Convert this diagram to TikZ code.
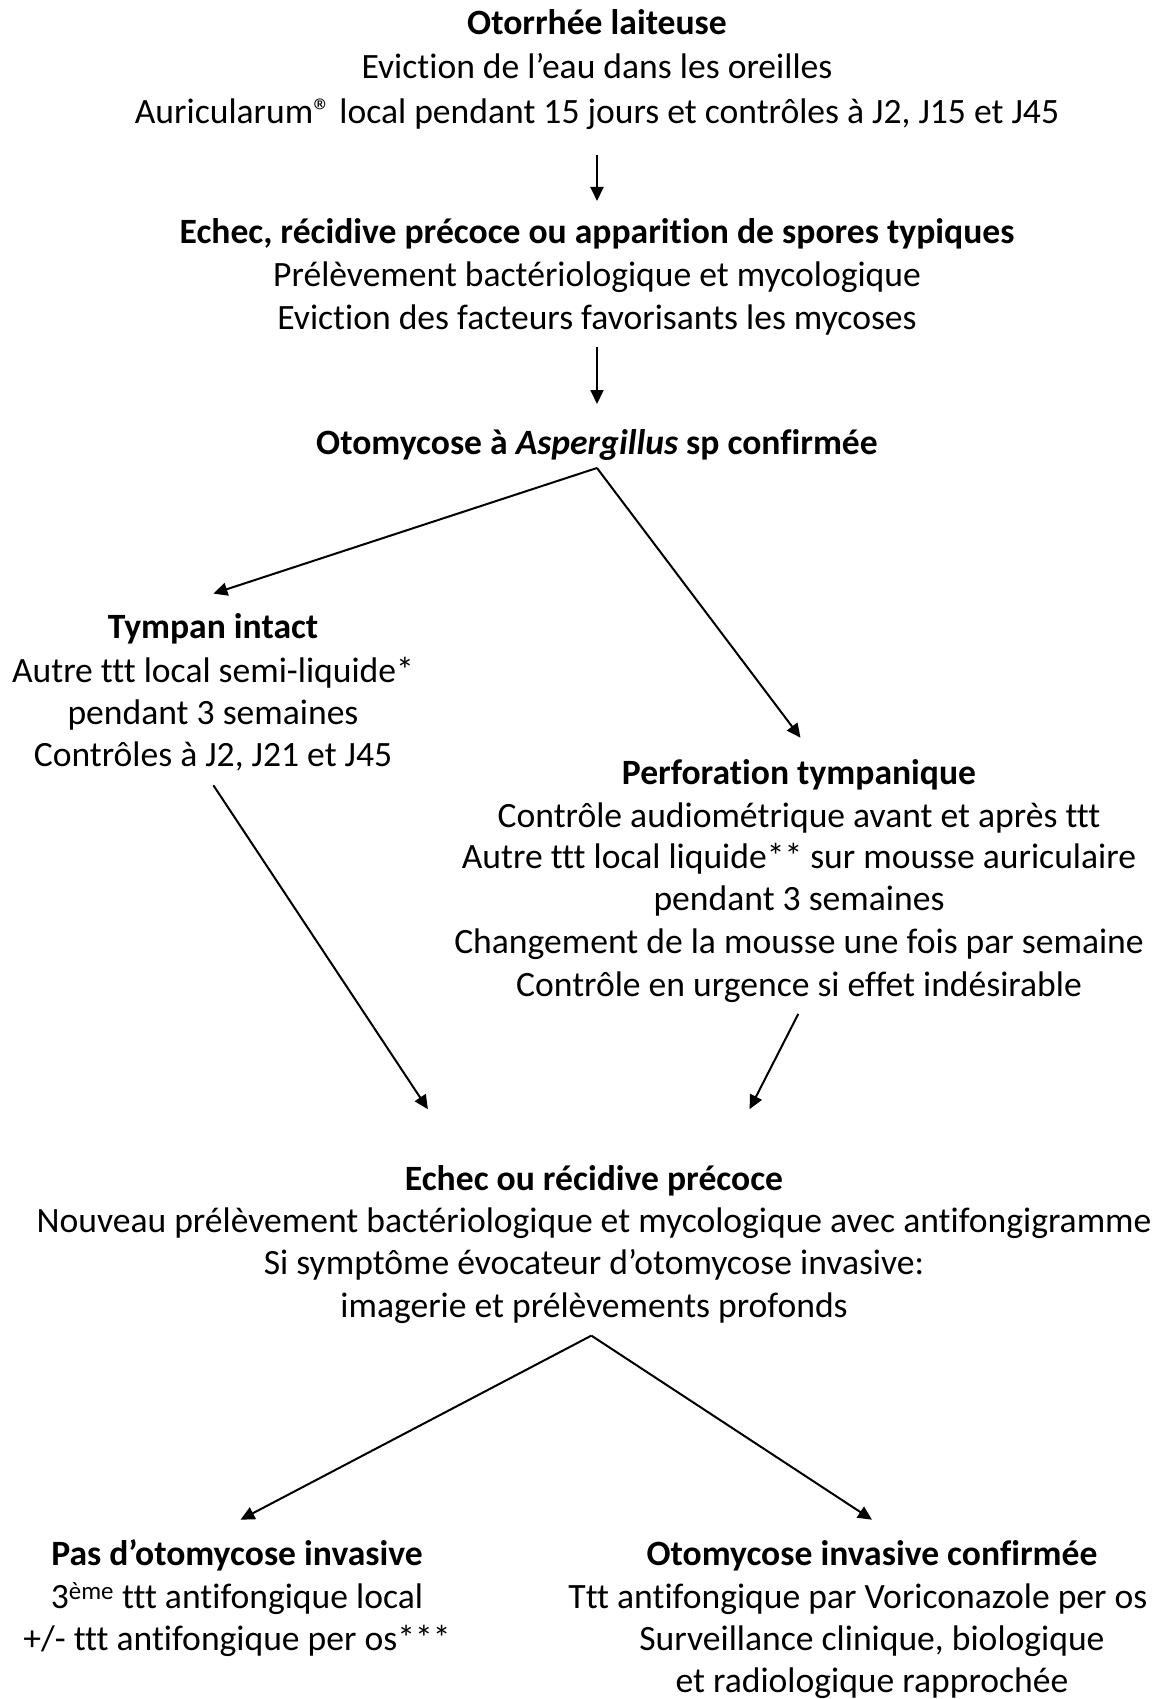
\documentclass[tikz,border=0pt]{standalone}
\usepackage{fontspec}
\setmainfont{Carlito}[Ligatures={NoCommon,NoRequired,NoContextual}]
\usetikzlibrary{arrows.meta}
\tikzset{
  txt/.style={anchor=base, inner sep=0pt, font=\fontsize{35.6}{42}\selectfont},
  hd/.style={txt, font=\fontsize{35.6}{42}\selectfont\bfseries},
  arr/.style={-{Triangle[length=14pt,width=13pt]}, line width=2pt, black}
}
\begin{document}
\begin{tikzpicture}[x=1pt,y=-1pt]
\useasboundingbox (0,0) rectangle (1172,1699);
\begin{scope}[yshift=-2pt]
% block 1
\node[hd]  (b1a) at (597,32.5) {Otorrhée laiteuse};
\node[txt] (b1b) at (597,76.9) {Eviction de l’eau dans les oreilles};
\node[txt] (b1c) at (597,121.3) {Auricularum® local pendant 15 jours et contrôles à J2, J15 et J45};
% block 2
\node[hd]  (b2a) at (597,241.6) {Echec, récidive précoce ou apparition de spores typiques};
\node[txt] (b2b) at (597,284.9) {Prélèvement bactériologique et mycologique};
\node[txt] (b2c) at (597,327.1) {Eviction des facteurs favorisants les mycoses};
% block 3
\node[hd]  (b3a) at (597,452.8) {Otomycose à \textit{Aspergillus} sp confirmée};
% block 4 left
\node[hd]  (b4a) at (213,636.9) {Tympan intact};
\node[txt] (b4b) at (213,680.2) {Autre ttt local semi-liquide*};
\node[txt] (b4c) at (213,722.5) {pendant 3 semaines};
\node[txt] (b4d) at (213,764.7) {Contrôles à J2, J21 et J45};
% block 5 right
\node[hd]  (b5a) at (799,782.1) {Perforation tympanique};
\node[txt] (b5b) at (799,825.4) {Contrôle audiométrique avant et après ttt};
\node[txt] (b5c) at (799,866.6) {Autre ttt local liquide** sur mousse auriculaire};
\node[txt] (b5d) at (799,908.8) {pendant 3 semaines};
\node[txt] (b5e) at (799,951.0) {Changement de la mousse une fois par semaine};
\node[txt] (b5f) at (799,994.4) {Contrôle en urgence si effet indésirable};
% block 6
\node[hd]  (b6a) at (594,1188.3) {Echec ou récidive précoce};
\node[txt] (b6b) at (594,1230.5) {Nouveau prélèvement bactériologique et mycologique avec antifongigramme};
\node[txt] (b6c) at (594,1272.8) {Si symptôme évocateur d’otomycose invasive:};
\node[txt] (b6d) at (594,1315.0) {imagerie et prélèvements profonds};
% block 7 left
\node[hd]  (b7a) at (237,1563.1) {Pas d’otomycose invasive};
\node[txt] (b7b) at (237,1606.4) {3\textsuperscript{ème} ttt antifongique local};
\node[txt] (b7c) at (237,1648.6) {+/- ttt antifongique per os***};
% block 8 right
\node[hd]  (b8a) at (872,1563.1) {Otomycose invasive confirmée};
\node[txt] (b8b) at (858,1606.4) {Ttt antifongique par Voriconazole per os};
\node[txt] (b8c) at (872,1648.6) {Surveillance clinique, biologique};
\node[txt] (b8d) at (872,1690.9) {et radiologique rapprochée};
\end{scope}
% connector endpoints
\coordinate (a1s) at (597,155);
\coordinate (a1e) at (597,201);
\coordinate (a2s) at (597,346.6);
\coordinate (a2e) at (597,404);
\coordinate (a3s) at (597,468);
\coordinate (a3l) at (213.4,593.6);
\coordinate (a3r) at (800.5,737.7);
\coordinate (a5s) at (213.4,785.3);
\coordinate (a5e) at (427.9,1109.2);
\coordinate (a6s) at (798.3,1013.9);
\coordinate (a6e) at (749.6,1109.2);
\coordinate (a7s) at (591.4,1335.6);
\coordinate (a7l) at (240.5,1519.7);
\coordinate (a7r) at (872,1519.7);
% connectors
\draw[arr] (a1s) -- (a1e);
\draw[arr] (a2s) -- (a2e);
\draw[arr] (a3s) -- (a3l);
\draw[arr] (a3s) -- (a3r);
\draw[arr] (a5s) -- (a5e);
\draw[arr] (a6s) -- (a6e);
\draw[arr] (a7s) -- (a7l);
\draw[arr] (a7s) -- (a7r);
\end{tikzpicture}
\end{document}
